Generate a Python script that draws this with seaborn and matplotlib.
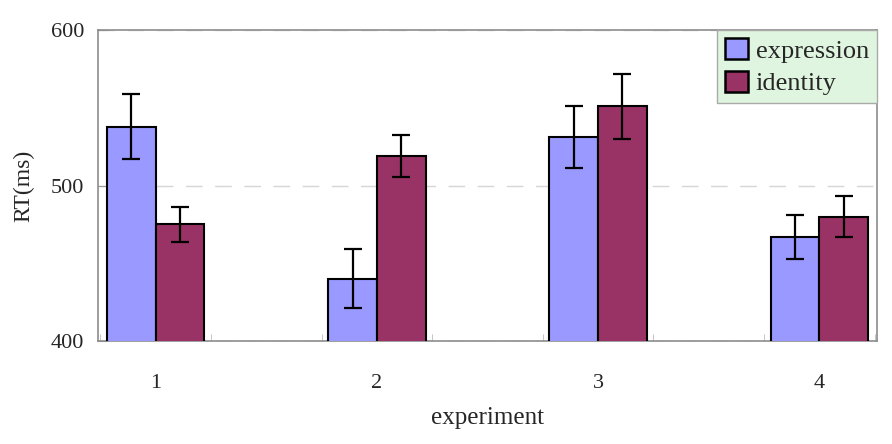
import matplotlib
matplotlib.use("Agg")
import matplotlib.pyplot as plt
import seaborn as sns
import pandas as pd
import numpy as np
from matplotlib.patches import Patch
from matplotlib.ticker import FixedLocator

experiments = ["1", "2", "3", "4"]
conditions = ["expression", "identity"]
expression_rt = [538, 440, 531, 467]
expression_err = [21, 19, 20, 14]
identity_rt = [475, 519, 551, 480]
identity_err = [11, 13.5, 21, 13]
y_ticks = [400, 500, 600]

colors = {"expression": "#9999FF", "identity": "#993366"}

df = pd.DataFrame({
    "experiment": experiments * 2,
    "condition": ["expression"] * 4 + ["identity"] * 4,
    "RT": expression_rt + identity_rt,
})
errs = {"expression": expression_err, "identity": identity_err}

sns.set_style("white")
plt.rcParams["font.family"] = ["Liberation Serif", "DejaVu Serif"]

fig = plt.figure(figsize=(8.92, 4.44), dpi=100)
ax = fig.add_axes([0.11, 0.232, 0.873, 0.700])

sns.barplot(data=df, x="experiment", y="RT", hue="condition",
            order=experiments, hue_order=conditions, palette=colors,
            saturation=1, width=0.44, edgecolor="black", linewidth=1.5,
            errorbar=None, legend=False, ax=ax, zorder=3)

for cond, cont in zip(conditions, ax.containers):
    xs = [b.get_x() + b.get_width() / 2 for b in cont]
    ys = [b.get_height() for b in cont]
    ax.errorbar(xs, ys, yerr=errs[cond], fmt="none", ecolor="black",
                elinewidth=1.6, capsize=6.5, capthick=1.6, zorder=4)

ax.set_ylim(400, 600)
ax.set_xlim(-0.26, 3.26)
ax.set_yticks(y_ticks)
ax.yaxis.grid(True, linestyle=(0, (12, 9)), color="#d6d6d6", linewidth=1)
ax.set_axisbelow(True)

for s in ax.spines.values():
    s.set_color("#8c8c8c")
    s.set_linewidth(1.2)
    s.set_visible(True)

ax.tick_params(axis="y", direction="in", length=7, color="#999999",
               labelsize=16, pad=10, left=True)
ax.tick_params(axis="x", which="major", length=0, labelsize=16, pad=24)
ax.xaxis.set_minor_locator(FixedLocator([-0.25 + 0.5 * i for i in range(8)]))
ax.tick_params(axis="x", which="minor", direction="in", length=5,
               color="#bbbbbb", bottom=True)

ax.set_xlabel("experiment", fontsize=18, labelpad=10)
ax.set_ylabel("RT(ms)", fontsize=17, labelpad=12)

handles = [Patch(facecolor=colors[c], edgecolor="black", linewidth=1.8, label=c)
           for c in conditions]
leg = ax.legend(handles=handles, loc="upper right", fontsize=19,
                frameon=True, fancybox=False, borderaxespad=0,
                handlelength=0.85, handleheight=0.85, handletextpad=0.3,
                labelspacing=0.3, borderpad=0.3)
leg.get_frame().set_facecolor("#E0F5E0")
leg.get_frame().set_edgecolor("#aaaaaa")
leg.get_frame().set_alpha(1)

fig.savefig("out.png", dpi=100)
